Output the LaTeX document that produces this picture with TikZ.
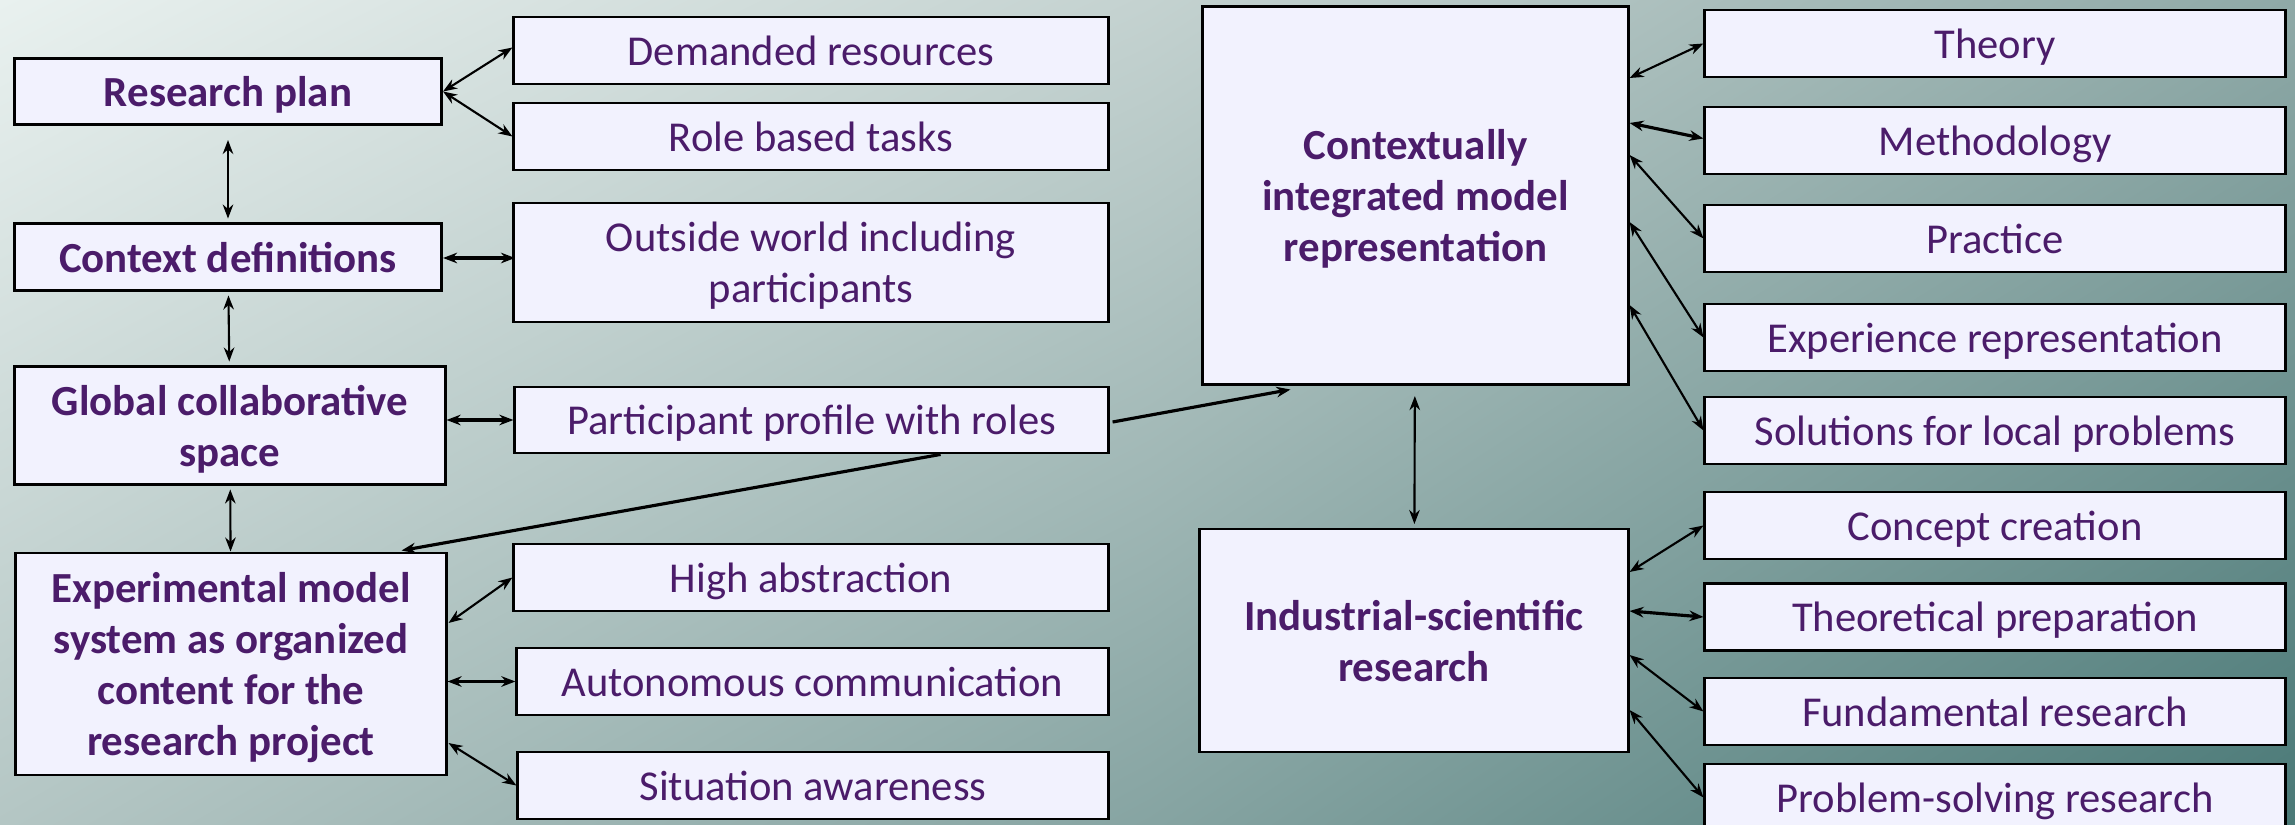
\documentclass[tikz,border=0pt]{standalone}
\usepackage{fontspec}
\setmainfont{Carlito}
\usepackage{tikz}
\usetikzlibrary{arrows.meta,calc,shadings}
\usepackage{xcolor}
\definecolor{boxfill}{RGB}{242,242,254}
\definecolor{labelpurple}{RGB}{75,28,106}
\definecolor{bgul}{RGB}{233,241,239}
\definecolor{bgum}{RGB}{196,210,208}
\definecolor{bgur}{RGB}{143,169,167}
\definecolor{bgll}{RGB}{180,198,196}
\definecolor{bglm}{RGB}{134,164,162}
\definecolor{bglr}{RGB}{74,121,119}

\begin{document}
\begin{tikzpicture}[x=0.01cm, y=0.01cm,
    mainbox/.style={draw=black, line width=0.8pt, fill=boxfill, text=labelpurple,
        font=\fontsize{12.2}{14.5}\selectfont\bfseries, align=center, inner sep=0pt,
        text depth=0pt},
    subbox/.style={draw=black, line width=0.8pt, fill=boxfill, text=labelpurple,
        font=\fontsize{12.1}{14.5}\selectfont, align=center, inner sep=0pt,
        text depth=0pt, minimum height=0.67cm},
    link/.style={{Stealth[length=4pt,width=3pt]}-{Stealth[length=4pt,width=3pt]}, line width=0.6pt},
    thicklink/.style={link, line width=0.9pt},
    oneway/.style={-{Stealth[length=4pt,width=3pt]}, line width=0.9pt}]

    % Background
    \useasboundingbox (0,0) rectangle (2295,-825);
    \clip (0,0) rectangle (2295,-825);
    \shade[upper left=bgul, upper right=bgum, lower left=bgll, lower right=bglm]
        (0,0) rectangle (1150,-825);
    \shade[upper left=bgum, upper right=bgur, lower left=bglm, lower right=bglr]
        (1150,0) rectangle (2295,-825);

    % Left column
    \node[mainbox, minimum width=4.27cm, minimum height=0.66cm] (rplan) at (228,-91.5) {Research plan};
    \node[mainbox, minimum width=4.27cm, minimum height=0.67cm] (ctxdef) at (228,-257) {Context definitions};
    \node[mainbox, minimum width=4.30cm, minimum height=1.18cm] (gcs) at (230,-425.5) {Global collaborative\\space};
    \node[mainbox, minimum width=4.30cm, minimum height=2.22cm] (ems) at (231,-664)
        {Experimental model\\system as organized\\content for the\\research project};

    % Middle column
    \node[subbox, minimum width=5.94cm] (dres) at (811,-50.5) {Demanded resources};
    \node[subbox, minimum width=5.94cm] (rbt) at (811,-136.5) {Role based tasks};
    \node[subbox, minimum width=5.94cm, minimum height=1.19cm] (oworld) at (811,-262.5)
        {Outside world including\\participants};
    \node[subbox, minimum width=5.93cm, minimum height=0.66cm] (pprof) at (811.5,-420) {Participant profile with roles};
    \node[subbox, minimum width=5.94cm] (habs) at (811,-577.5) {High abstraction};
    \node[subbox, minimum width=5.91cm] (acomm) at (812.5,-681.5) {Autonomous communication};
    \node[subbox, minimum width=5.90cm] (sawa) at (813,-785.5) {Situation awareness};

    % Central boxes
    \node[mainbox, minimum width=4.25cm, minimum height=3.77cm] (cim) at (1415.5,-195.5)
        {Contextually\\integrated model\\representation};
    \node[mainbox, minimum width=4.28cm, minimum height=2.23cm] (isr) at (1414,-640.5)
        {Industrial-scientific\\research};

    % Right column
    \node[subbox, minimum width=5.80cm] (theory) at (1995,-43.5) {Theory};
    \node[subbox, minimum width=5.80cm] (meth) at (1995,-140.5) {Methodology};
    \node[subbox, minimum width=5.80cm] (prac) at (1995,-238.5) {Practice};
    \node[subbox, minimum width=5.80cm] (expr) at (1995,-337.5) {Experience representation};
    \node[subbox, minimum width=5.80cm] (sol) at (1995,-430.5) {Solutions for local problems};
    \node[subbox, minimum width=5.80cm] (conc) at (1995,-525.5) {Concept creation};
    \node[subbox, minimum width=5.80cm] (tprep) at (1995,-617) {Theoretical preparation};
    \node[subbox, minimum width=5.80cm] (fund) at (1995,-711.5) {Fundamental research};
    \node[subbox, minimum width=5.80cm] (psr) at (1995,-797.5) {Problem-solving research};

    % Left chain
    \draw[link, shorten <=4pt, shorten >=1pt] (rplan) -- (ctxdef);
    \draw[link, shorten <=1pt, shorten >=1pt] (ctxdef) -- (gcs);
    \draw[link, shorten <=1pt] (gcs) -- (ems);

    % Left to middle
    \draw[link] (rplan.east) -- ($(dres.west)+(0,3)$);
    \draw[link] (rplan.east) -- (rbt.west);
    \draw[thicklink] ($(ctxdef.east)+(0,-1)$) -- ($(ctxdef.east)+(72,-1)$);
    \draw[thicklink] (pprof.west -| gcs.east) -- (pprof.west);
    \draw[link] ($(ems.east)+(1,41)$) -- (habs.west);
    \draw[thicklink] (acomm.west -| ems.east) -- (acomm.west);
    \draw[link] ($(ems.east)+(1,-79)$) -- (sawa.west);

    % Participant profile links
    \draw[oneway] ($(pprof.east)+(3,-2)$) -- ($(cim.south west)+(89,-4)$);
    \draw[oneway] ($(pprof.south east)+(-169,0)$) -- ($(ems.north east)+(-46,1)$);

    % Central link
    \draw[link, shorten <=3pt, shorten >=1pt] (cim) -- (isr);

    % Central to right
    \draw[link] ($(cim.east)+(0,117.5)$) -- (theory.west);
    \draw[thicklink] ($(cim.east)+(0,72.5)$) -- ($(meth.west)+(0,2)$);
    \draw[link] ($(cim.east)+(0,40.5)$) -- (prac.west);
    \draw[link] ($(cim.east)+(0,-26.5)$) -- (expr.west);
    \draw[link] ($(cim.east)+(0,-109.5)$) -- (sol.west);
    \draw[link] ($(isr.east)+(0,68.5)$) -- (conc.west);
    \draw[thicklink] ($(isr.east)+(0,29.5)$) -- (tprep.west);
    \draw[link] ($(isr.east)+(0,-14.5)$) -- (fund.west);
    \draw[link] ($(isr.east)+(0,-69.5)$) -- (psr.west);
\end{tikzpicture}
\end{document}
